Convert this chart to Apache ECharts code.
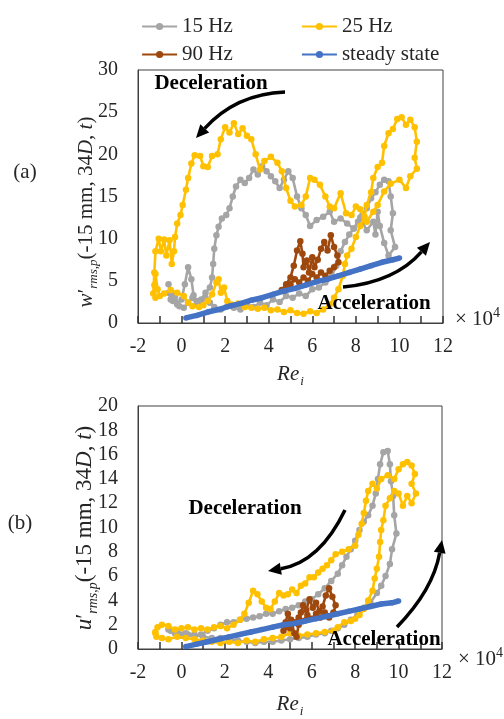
<!DOCTYPE html>
<html>
<head>
<meta charset="utf-8">
<script src="https://cdn.jsdelivr.net/npm/echarts@6/dist/echarts.min.js"></script>
<style>
html,body{margin:0;padding:0;background:#fff;}
#chart{width:504px;height:719px;}
</style>
</head>
<body>
<div id="chart"></div>
<script>
// ---------- DATA ----------
var seriesNames = ['15 Hz', '25 Hz', '90 Hz', 'steady state'];
var xTicks = [-2, 0, 2, 4, 6, 8, 10, 12];
var yTicksA = [0, 5, 10, 15, 20, 25, 30];
var yTicksB = [0, 2, 4, 6, 8, 10, 12, 14, 16, 18, 20];

// (a) w'rms,p  [Re_i (x10^4), value]
var hz15_w = [[-0.6,4.6],[-0.5,3.5],[-0.4,2.6],[-0.2,2.2],[0.0,2.8],[0.15,4.6],[0.3,6.6],[0.45,5.2],[0.55,3.3],[0.7,2.6],[0.9,2.3],[1.1,3.0],[1.3,2.4],[1.5,1.9],[1.8,1.6],[2.1,2.0],[2.4,1.8],[2.7,1.6],[3.0,2.2],[3.3,1.9],[3.6,2.4],[3.9,2.1],[4.2,2.8],[4.5,2.5],[4.8,3.2],[5.1,3.0],[5.4,3.5],[5.7,3.2],[6.0,4.0],[6.3,4.2],[6.6,4.8],[6.9,5.6],[7.1,6.8],[7.3,8.5],[7.5,9.6],[7.7,10.5],[7.9,11.2],[8.1,12.0],[8.3,12.8],[8.5,13.6],[8.7,14.8],[8.9,15.5],[9.1,16.4],[9.3,17.0],[9.5,16.8],[9.6,15.0],[9.7,13.0],[9.6,11.0],[9.8,9.0],[9.5,8.0],[9.3,9.5],[9.1,11.5],[9.0,13.2],[8.9,10.5],[8.8,12.0],[8.5,11.0],[8.2,12.5],[7.9,11.2],[7.6,11.8],[7.3,12.4],[7.0,12.0],[6.8,13.2],[6.5,12.6],[6.2,12.2],[5.9,11.5],[5.7,12.8],[5.5,13.6],[5.3,15.0],[5.1,17.2],[4.9,18.0],[4.7,17.0],[4.5,16.0],[4.3,16.8],[4.1,17.4],[3.9,18.0],[3.7,18.6],[3.5,17.6],[3.3,18.2],[3.1,17.2],[2.9,16.6],[2.7,17.0],[2.5,16.2],[2.35,15.0],[2.2,13.6],[2.05,12.8],[1.85,12.4],[1.7,11.4],[1.6,10.4],[1.5,8.8],[1.45,7.0],[1.4,5.4],[1.3,4.2],[1.1,3.6],[0.9,2.8],[0.7,2.2],[0.5,3.0],[0.3,2.4],[0.1,1.8],[-0.1,2.0],[-0.3,3.2],[-0.5,2.8],[-0.6,3.6]];
var hz25_w = [[-1.2,3.0],[-1.25,4.5],[-1.2,5.8],[-1.1,4.0],[-1.0,3.2],[-0.8,3.5],[-0.5,3.9],[-0.2,3.6],[0.1,3.2],[0.3,2.4],[0.5,2.0],[0.8,1.9],[1.0,2.1],[1.2,2.6],[1.4,3.4],[1.6,4.8],[1.7,5.2],[1.8,3.6],[1.95,4.2],[2.1,2.6],[2.3,2.2],[2.6,2.3],[2.9,1.9],[3.2,1.8],[3.5,1.7],[3.8,1.8],[4.1,1.5],[4.4,1.6],[4.7,1.3],[5.0,1.5],[5.3,1.2],[5.6,1.1],[5.9,1.4],[6.2,1.2],[6.5,1.6],[6.8,2.2],[7.0,3.0],[7.2,4.0],[7.4,5.6],[7.5,7.0],[7.6,8.0],[7.8,8.8],[8.0,10.2],[8.2,11.5],[8.4,12.6],[8.5,14.0],[8.7,15.5],[8.8,17.2],[9.0,18.5],[9.2,19.0],[9.3,21.0],[9.5,22.5],[9.7,23.0],[9.9,24.2],[10.1,24.4],[10.3,23.5],[10.5,24.1],[10.7,23.2],[10.8,21.5],[10.7,19.6],[10.8,18.3],[10.5,17.4],[10.3,16.0],[10.0,17.0],[9.6,16.5],[9.3,15.6],[9.0,14.0],[8.8,13.2],[8.5,12.0],[8.2,13.5],[8.0,13.8],[7.8,12.8],[7.55,13.0],[7.3,15.4],[7.0,13.6],[6.8,13.8],[6.6,15.0],[6.35,16.4],[6.1,17.0],[5.9,17.2],[5.7,15.0],[5.5,14.0],[5.2,13.8],[5.0,14.5],[4.8,16.0],[4.6,18.0],[4.4,19.0],[4.1,19.7],[3.8,19.2],[3.6,18.2],[3.4,20.0],[3.2,21.8],[3.0,22.2],[2.8,23.1],[2.6,22.4],[2.4,23.7],[2.2,22.6],[2.0,23.2],[1.8,21.8],[1.65,20.0],[1.4,19.8],[1.2,18.5],[1.0,18.6],[0.85,19.8],[0.6,19.9],[0.45,18.9],[0.3,17.2],[0.2,15.8],[0.05,14.0],[-0.05,12.8],[-0.2,11.8],[-0.3,10.2],[-0.35,8.5],[-0.45,7.0],[-0.55,9.8],[-0.7,8.0],[-0.8,9.9],[-0.95,8.5],[-1.05,10.0],[-1.2,8.5],[-1.25,6.0],[-1.3,3.5]];
var hz90_w = [[4.6,3.9],[4.8,4.6],[5.0,5.4],[5.15,6.8],[5.3,8.6],[5.45,9.7],[5.55,8.2],[5.6,6.6],[5.75,7.4],[5.85,6.0],[6.0,7.8],[6.1,6.6],[6.25,7.5],[6.4,8.8],[6.55,9.6],[6.7,8.6],[6.85,10.4],[7.0,9.0],[7.15,8.0],[7.2,7.2],[7.0,6.6],[6.8,6.2],[6.6,5.6],[6.4,6.0],[6.2,5.4],[6.0,5.8],[5.8,5.0],[5.6,5.4],[5.4,4.8],[5.2,5.2],[5.0,4.6],[4.8,4.2],[4.65,3.8]];
var steady_w = [[0.2,0.6],[0.7,0.9],[1.2,1.3],[1.7,1.6],[2.2,2.0],[2.7,2.3],[3.2,2.7],[3.7,3.0],[4.2,3.4],[4.7,3.8],[5.2,4.1],[5.7,4.5],[6.2,4.9],[6.7,5.2],[7.2,5.6],[7.7,6.0],[8.2,6.4],[8.7,6.8],[9.2,7.2],[9.7,7.5],[10.0,7.7]];

// (b) u'rms,p
var hz15_u = [[-0.6,1.6],[-0.3,1.3],[0.0,1.1],[0.3,1.2],[0.6,1.0],[0.9,1.2],[1.2,1.5],[1.5,1.7],[1.8,2.0],[2.1,2.2],[2.4,2.2],[2.7,2.4],[3.0,2.5],[3.3,2.6],[3.6,2.7],[3.9,2.9],[4.2,2.9],[4.5,3.1],[4.8,3.3],[5.1,3.4],[5.4,3.6],[5.7,3.9],[6.0,4.1],[6.3,4.5],[6.6,5.0],[6.9,5.6],[7.2,6.2],[7.4,6.9],[7.6,7.6],[7.8,8.2],[8.0,8.9],[8.2,9.8],[8.4,10.5],[8.6,11.0],[8.8,11.8],[8.95,12.8],[9.05,14.0],[9.15,15.2],[9.3,16.2],[9.5,16.3],[9.6,15.2],[9.65,13.8],[9.75,12.6],[9.8,11.0],[9.9,9.5],[9.7,8.2],[9.6,7.0],[9.4,6.0],[9.2,5.2],[9.0,4.6],[8.7,3.8],[8.4,3.4],[8.1,2.8],[7.8,2.4],[7.5,2.0],[7.2,1.7],[6.9,1.5],[6.6,1.3],[6.2,1.2],[5.8,1.0],[5.4,0.9],[5.0,0.8],[4.6,0.7],[4.2,0.6],[3.8,0.6],[3.4,0.5],[3.0,0.6],[2.6,0.7],[2.2,0.8],[1.8,0.9],[1.4,0.9],[1.0,1.0],[0.6,1.2],[0.2,1.3],[-0.2,1.4],[-0.5,1.5]];
var hz25_u = [[-1.2,1.4],[-1.1,1.8],[-0.9,2.0],[-0.6,1.9],[-0.3,1.6],[0.0,1.7],[0.3,1.8],[0.6,1.6],[0.9,1.7],[1.2,1.6],[1.5,1.8],[1.8,1.9],[2.1,1.7],[2.4,2.0],[2.7,2.4],[2.9,2.9],[3.1,3.8],[3.3,4.8],[3.5,4.5],[3.7,3.9],[3.9,3.4],[4.1,3.3],[4.3,3.9],[4.5,4.6],[4.7,4.4],[4.9,4.5],[5.1,4.9],[5.3,4.6],[5.5,5.2],[5.7,5.4],[5.9,5.9],[6.1,5.9],[6.3,6.3],[6.5,6.6],[6.7,6.9],[6.9,7.3],[7.1,7.8],[7.4,8.0],[7.7,8.2],[8.0,8.5],[8.15,9.4],[8.3,10.3],[8.4,11.2],[8.5,12.2],[8.6,13.0],[8.8,13.6],[9.0,13.2],[9.2,14.0],[9.5,14.3],[9.8,14.0],[10.0,14.8],[10.2,15.2],[10.4,15.4],[10.6,15.1],[10.75,14.4],[10.6,13.6],[10.8,12.8],[10.6,12.0],[10.4,12.6],[10.2,11.8],[10.0,12.8],[9.8,13.0],[9.6,12.4],[9.4,11.8],[9.3,10.6],[9.2,9.8],[9.15,8.8],[9.1,7.6],[9.0,6.6],[8.9,5.8],[8.8,4.8],[8.6,4.0],[8.4,3.3],[8.2,2.8],[8.0,2.5],[7.8,2.3],[7.5,2.2],[7.2,1.8],[7.0,1.5],[6.6,1.4],[6.2,1.3],[5.8,1.2],[5.4,1.1],[5.0,1.3],[4.6,1.0],[4.2,0.9],[3.8,0.8],[3.4,0.6],[3.0,0.7],[2.6,0.5],[2.2,0.6],[1.8,0.5],[1.4,0.6],[1.0,0.7],[0.6,0.8],[0.2,0.9],[-0.2,1.0],[-0.6,0.8],[-0.9,0.9],[-1.15,1.0],[-1.2,1.3]];
var hz90_u = [[4.7,1.5],[4.8,2.2],[4.9,2.9],[5.05,2.4],[5.2,1.3],[5.3,1.0],[5.4,2.0],[5.5,3.0],[5.6,3.6],[5.75,3.2],[5.9,4.1],[6.05,3.4],[6.2,3.8],[6.35,3.1],[6.5,3.5],[6.65,4.4],[6.8,5.0],[6.95,4.3],[7.1,3.6],[7.0,3.0],[6.8,2.6],[6.6,3.0],[6.4,2.6],[6.2,2.9],[6.0,2.5],[5.8,2.8],[5.6,2.3],[5.4,2.6],[5.2,2.2],[5.0,1.7],[4.8,1.8]];
var steady_u = [[0.2,0.2],[0.7,0.4],[1.2,0.6],[1.7,0.8],[2.2,1.0],[2.7,1.2],[3.2,1.4],[3.7,1.6],[4.2,1.8],[4.7,2.0],[5.2,2.1],[5.7,2.3],[6.2,2.5],[6.7,2.7],[7.2,2.9],[7.7,3.1],[8.2,3.3],[8.7,3.5],[9.2,3.7],[9.7,3.8],[10.0,3.95]];

// ---------- STYLE ----------
var FONT = "Liberation Serif, Times New Roman, serif";
var TXT = '#262626';
var AXC = '#404040';
var colors = ['#A5A5A5', '#FFC000', '#9E480E', '#4472C4'];

function xAxisCfg(gi, gap) {
  return {
    type: 'value', gridIndex: gi, min: xTicks[0], max: xTicks[xTicks.length - 1], interval: 1,
    axisLine: { show: true, onZero: false, lineStyle: { color: AXC, width: 1 } },
    axisTick: { show: true, inside: true, length: 7, lineStyle: { color: '#333', width: 1.5 } },
    axisLabel: { margin: 14, fontFamily: FONT, fontSize: 20, color: TXT,
      formatter: function (v) { return xTicks.indexOf(v) >= 0 ? String(v) : ''; } },
    splitLine: { show: false },
    name: '{i|Re}{s|i}', nameLocation: 'middle', nameGap: gap,
    nameTextStyle: { rich: {
      i: { fontFamily: FONT, fontStyle: 'italic', fontSize: 21, color: TXT, lineHeight: 24, verticalAlign: 'bottom' },
      s: { fontFamily: FONT, fontStyle: 'italic', fontSize: 13, color: TXT, lineHeight: 13, verticalAlign: 'bottom', padding: [0, 0, -3, 1] }
    } }
  };
}
function yAxisCfg(gi, ticks, fs) {
  return {
    type: 'value', gridIndex: gi, min: ticks[0], max: ticks[ticks.length - 1], interval: ticks[1] - ticks[0],
    axisLine: { show: true, onZero: false, lineStyle: { color: AXC, width: 1 } },
    axisTick: { show: false },
    axisLabel: { margin: 20, fontFamily: FONT, fontSize: fs, color: TXT },
    splitLine: { show: false }
  };
}
function mkSeries(name, data, gi, idx) {
  var blue = idx === 3;
  return {
    name: name, type: 'line', data: data, xAxisIndex: gi, yAxisIndex: gi,
    symbol: 'circle', symbolSize: blue ? 5.5 : 6.5, showSymbol: true, showAllSymbol: true,
    itemStyle: { color: colors[idx] },
    lineStyle: { color: colors[idx], width: blue ? 5.5 : 2.6 },
    z: 2 + idx, animation: false, silent: true
  };
}

function arrow(x1, y1, cx, cy, x2, y2) {
  var a = Math.atan2(y2 - cy, x2 - cx);
  var L = 13, W = 6;
  var bx = x2 - L * Math.cos(a), by = y2 - L * Math.sin(a);
  var px = -Math.sin(a), py = Math.cos(a);
  return [
    { type: 'bezierCurve', shape: { x1: x1, y1: y1, cpx1: cx, cpy1: cy, x2: bx, y2: by },
      style: { stroke: '#000', lineWidth: 3.5, fill: null } },
    { type: 'polygon', shape: { points: [[x2, y2], [bx + W * px, by + W * py], [bx - W * px, by - W * py]] },
      style: { fill: '#000' } }
  ];
}
function label(x, y, txt, opt) {
  var s = Object.assign({ text: txt, x: x, y: y, fontFamily: FONT, fontSize: 21, fill: TXT, align: 'center', verticalAlign: 'middle' }, opt || {});
  return { type: 'text', style: s, z: 20 };
}
var yRich = function (fs) {
  return {
    i: { fontFamily: FONT, fontStyle: 'italic', fontSize: fs, fill: TXT, lineHeight: fs + 4, verticalAlign: 'bottom' },
    n: { fontFamily: FONT, fontSize: fs, fill: TXT, lineHeight: fs + 4, verticalAlign: 'bottom' },
    s: { fontFamily: FONT, fontStyle: 'italic', fontSize: Math.round(fs * 0.62), fill: TXT, lineHeight: Math.round(fs * 0.62), verticalAlign: 'bottom', padding: [0, 0, -4, 0] }
  };
};

var graphics = [];
graphics.push(label(25, 172, '(a)'));
graphics.push(label(20, 523, '(b)'));
graphics.push({ type: 'text', x: 84, y: 212, rotation: Math.PI / 2, z: 20,
  style: { text: '{i|w}{n|′}{s|rms,p}{n|(-15 mm, 34}{i|D}{n|, }{i|t}{n|)}', rich: yRich(21), align: 'center', verticalAlign: 'middle', fill: TXT, fontFamily: FONT, fontSize: 21 } });
graphics.push({ type: 'text', x: 83, y: 528, rotation: Math.PI / 2, z: 20,
  style: { text: '{i|u}{n|′}{s|rms,p}{n|(-15 mm, 34}{i|D}{n|, }{i|t}{n|)}', rich: yRich(23), align: 'center', verticalAlign: 'middle', fill: TXT, fontFamily: FONT, fontSize: 23 } });
var supRich = {
  n: { fontFamily: FONT, fontSize: 21, fill: TXT, lineHeight: 24, verticalAlign: 'bottom' },
  p: { fontFamily: FONT, fontSize: 14, fill: TXT, lineHeight: 14, verticalAlign: 'top' }
};
graphics.push({ type: 'text', x: 455, y: 318, z: 20, style: { text: '{n|× 10}{p|4}', rich: supRich, align: 'left', verticalAlign: 'middle' } });
graphics.push({ type: 'text', x: 458, y: 658, z: 20, style: { text: '{n|× 10}{p|4}', rich: supRich, align: 'left', verticalAlign: 'middle' } });
var bold = { fontWeight: 'bold', fill: '#000', fontSize: 21 };
graphics.push(label(211, 84, 'Deceleration', bold));
graphics.push(label(374, 304, 'Acceleration', bold));
graphics.push(label(245, 509, 'Deceleration', bold));
graphics.push(label(384, 640, 'Acceleration', bold));
graphics = graphics
  .concat(arrow(285, 92, 236, 94, 196, 138))
  .concat(arrow(343, 287, 395, 282, 430, 242))
  .concat(arrow(345, 510, 320, 562, 268, 571))
  .concat(arrow(397, 627, 433, 590, 442, 540));
graphics.forEach(function (g) { if (g.z === undefined) g.z = 20; });

var legendCommon = {
  orient: 'horizontal', itemWidth: 35, itemHeight: 9, itemGap: 68,
  textStyle: { fontFamily: FONT, fontSize: 21, color: TXT },
  lineStyle: { width: 2.2 }, selectedMode: false
};

var option = {
  animation: false,
  backgroundColor: '#fff',
  legend: [
    Object.assign({}, legendCommon, { data: ['15 Hz', '25 Hz'], left: 136, top: 11 }),
    Object.assign({}, legendCommon, { data: ['90 Hz', 'steady state'], left: 136, top: 39 })
  ],
  grid: [
    { left: 138, top: 70, width: 305, height: 253, show: true, borderColor: AXC, borderWidth: 1, backgroundColor: 'transparent' },
    { left: 138, top: 406, width: 304, height: 247, show: true, borderColor: AXC, borderWidth: 1, backgroundColor: 'transparent' }
  ],
  xAxis: [xAxisCfg(0, 38), xAxisCfg(1, 42)],
  yAxis: [yAxisCfg(0, yTicksA, 20), yAxisCfg(1, yTicksB, 20)],
  series: [
    mkSeries(seriesNames[0], hz15_w, 0, 0),
    mkSeries(seriesNames[1], hz25_w, 0, 1),
    mkSeries(seriesNames[2], hz90_w, 0, 2),
    mkSeries(seriesNames[3], steady_w, 0, 3),
    mkSeries(seriesNames[0], hz15_u, 1, 0),
    mkSeries(seriesNames[1], hz25_u, 1, 1),
    mkSeries(seriesNames[2], hz90_u, 1, 2),
    mkSeries(seriesNames[3], steady_u, 1, 3)
  ],
  graphic: { elements: graphics }
};

var chart = echarts.init(document.getElementById('chart'), null, { renderer: 'canvas', width: 504, height: 719 });
chart.setOption(option);
</script>
</body>
</html>
